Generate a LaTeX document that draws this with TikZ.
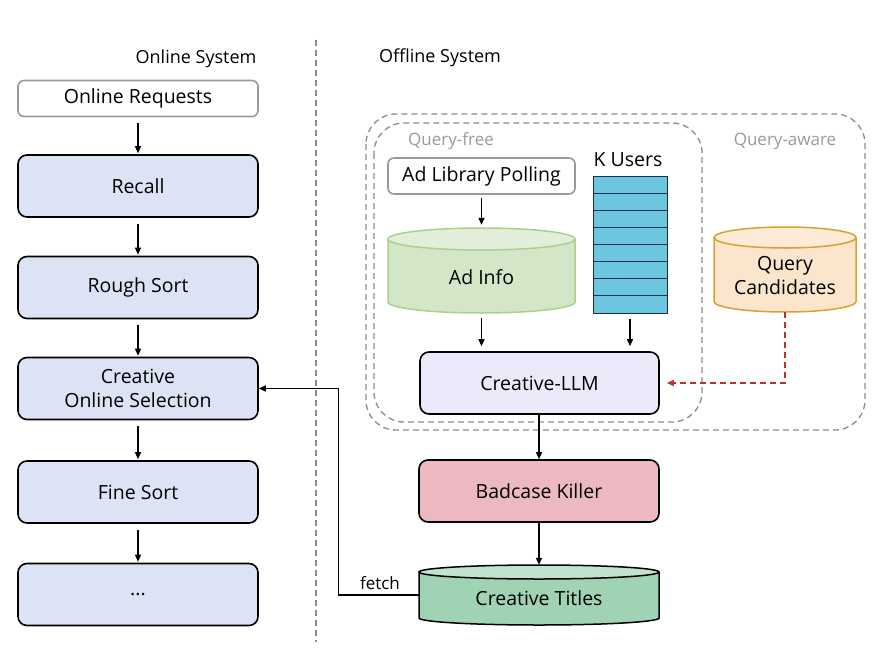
\documentclass[tikz,border=0pt]{standalone}
\usepackage{fontspec}
\setmainfont{Open Sans}
\usetikzlibrary{arrows.meta}
\definecolor{boxblue}{HTML}{DCE3F4}
\definecolor{greenfill}{HTML}{D3E6C7}
\definecolor{greentop}{HTML}{E1EFDA}
\definecolor{greenline}{HTML}{A9D18E}
\definecolor{orfill}{HTML}{FCE5CD}
\definecolor{ortop}{HTML}{FDEBD8}
\definecolor{orline}{HTML}{D8A132}
\definecolor{llmfill}{HTML}{EEE8FB}
\definecolor{badfill}{HTML}{EDB9C0}
\definecolor{titfill}{HTML}{9FD3B4}
\definecolor{tittop}{HTML}{BFE3CD}
\definecolor{kfill}{HTML}{6CC6E0}
\definecolor{kline}{HTML}{1F2D4D}
\definecolor{dashgray}{HTML}{8C8C8C}
\definecolor{lblgray}{HTML}{9A9A9A}
\definecolor{darkred}{HTML}{C0302A}
\newcommand\mycyl[8]{%
  \pgfmathsetmacro\cx{(#1+#2)/2}\pgfmathsetmacro\rx{(#2-#1)/2}%
  \filldraw[fill=#6,draw=#8,line width=1.5pt] (#1,{#3+#5}) -- (#1,{#4-#5}) arc[start angle=180,end angle=0,x radius=\rx,y radius=#5] -- (#2,{#3+#5});
  \filldraw[fill=#7,draw=#8,line width=1.5pt] (\cx,{#3+#5}) ellipse[x radius=\rx,y radius=#5];
}
\begin{document}
\begin{tikzpicture}[x=1pt,y=-1pt,
  mainfont/.style={font=\fontsize{19.5}{24}\selectfont},
  box/.style={draw=black,line width=1.6pt,rounded corners=9pt,fill=boxblue,minimum width=240,minimum height=62,inner sep=0pt,align=center,mainfont},
  plainbox/.style={draw=gray!80,line width=1.6pt,rounded corners=6pt,fill=white,inner sep=0pt,mainfont},
  area/.style={inner sep=0pt},
  arr/.style={line width=1.3pt,-{Triangle[length=7pt,width=6pt]}},
  gdash/.style={draw=dashgray,line width=1.3pt,dash pattern=on 6pt off 4pt},
  grouplbl/.style={text=lblgray,font=\fontsize{17}{20}\selectfont},
  syslbl/.style={font=\fontsize{18}{21}\selectfont}]
\useasboundingbox (0,0) rectangle (888,650);

% separator
\draw[gdash] (316,40) -- (316,642);
\node[syslbl] at (196,59) {Online System};
\node[syslbl] at (440,58) {Offline System};

% online column
\node[plainbox,minimum width=240,minimum height=36] (req) at (138,98.5) {Online Requests};
\node[box] (recall) at (138,186) {Recall};
\node[box] (rough) at (138,287.5) {Rough Sort};
\node[box] (cos) at (138,388.5) {Creative\\Online Selection};
\node[box] (fine) at (138,492) {Fine Sort};
\node[box] (dots) at (138,594.5) {...};
\foreach \a/\b in {req/recall,recall/rough,rough/cos,cos/fine,fine/dots}
  \draw[arr,shorten <=6pt,shorten >=1pt] (\a) -- (\b);

% offline groups
\draw[gdash,rounded corners=30pt] (366,114) rectangle (865,430);
\draw[gdash,rounded corners=30pt] (374,123) rectangle (702,422);
\node[grouplbl] at (451,141) {Query-free};
\node[grouplbl] at (785,141) {Query-aware};

% ad library polling
\node[plainbox,minimum width=187,minimum height=36] (adlib) at (481.5,176) {Ad Library Polling};

% ad info cylinder
\mycyl{388}{575}{228}{313}{11}{greenfill}{greentop}{greenline}
\node[area,minimum width=187,minimum height=85] (adinfo) at (481.5,270.5) {};
\node[mainfont] at (481.5,277) {Ad Info};
\draw[arr,shorten <=3pt,shorten >=3pt] (adlib.south) -- (adinfo.north);

% K users
\node[mainfont] at (628,160) {K Users};
\node[draw=kline,fill=kfill,line width=1pt,minimum width=74,minimum height=137,inner sep=0pt] (kstack) at (630,244.5) {};
\foreach \k in {1,...,7}
  \draw[kline,line width=1pt] (593,{176+\k*17.125}) -- (667,{176+\k*17.125});

% query candidates cylinder
\mycyl{714}{856}{227}{312}{10.5}{orfill}{ortop}{orline}
\node[area,minimum width=142,minimum height=85] (qc) at (785,269.5) {};
\node[mainfont,align=center] at (785,276) {Query\\Candidates};

% creative llm
\node[box,fill=llmfill,minimum width=239] (llm) at (539.5,383) {Creative-LLM};

\draw[arr,shorten <=5pt,shorten >=5pt] (adinfo.south) -- (adinfo.south |- llm.north);
\draw[arr,shorten <=5pt,shorten >=5pt] (kstack.south) -- (kstack.south |- llm.north);
\draw[arr,darkred,dash pattern=on 6pt off 4pt,shorten >=7pt] (qc.south) |- (llm.east);

% badcase killer
\node[box,fill=badfill] (bad) at (539,491) {Badcase Killer};
\draw[arr] (llm.south -| bad.north) -- (bad.north);

% creative titles cylinder
\mycyl{419}{659}{565}{625}{7}{titfill}{tittop}{black}
\node[area,minimum width=240,minimum height=60] (titles) at (539,595) {};
\node[mainfont] at (539,598) {Creative Titles};
\draw[arr] (bad.south) -- (titles.north);

% fetch
\draw[arr] (titles.west) -- ++(-80,0) |- (cos.east);
\node[font=\fontsize{17}{20}\selectfont] at (380,583) {fetch};
\end{tikzpicture}
\end{document}
